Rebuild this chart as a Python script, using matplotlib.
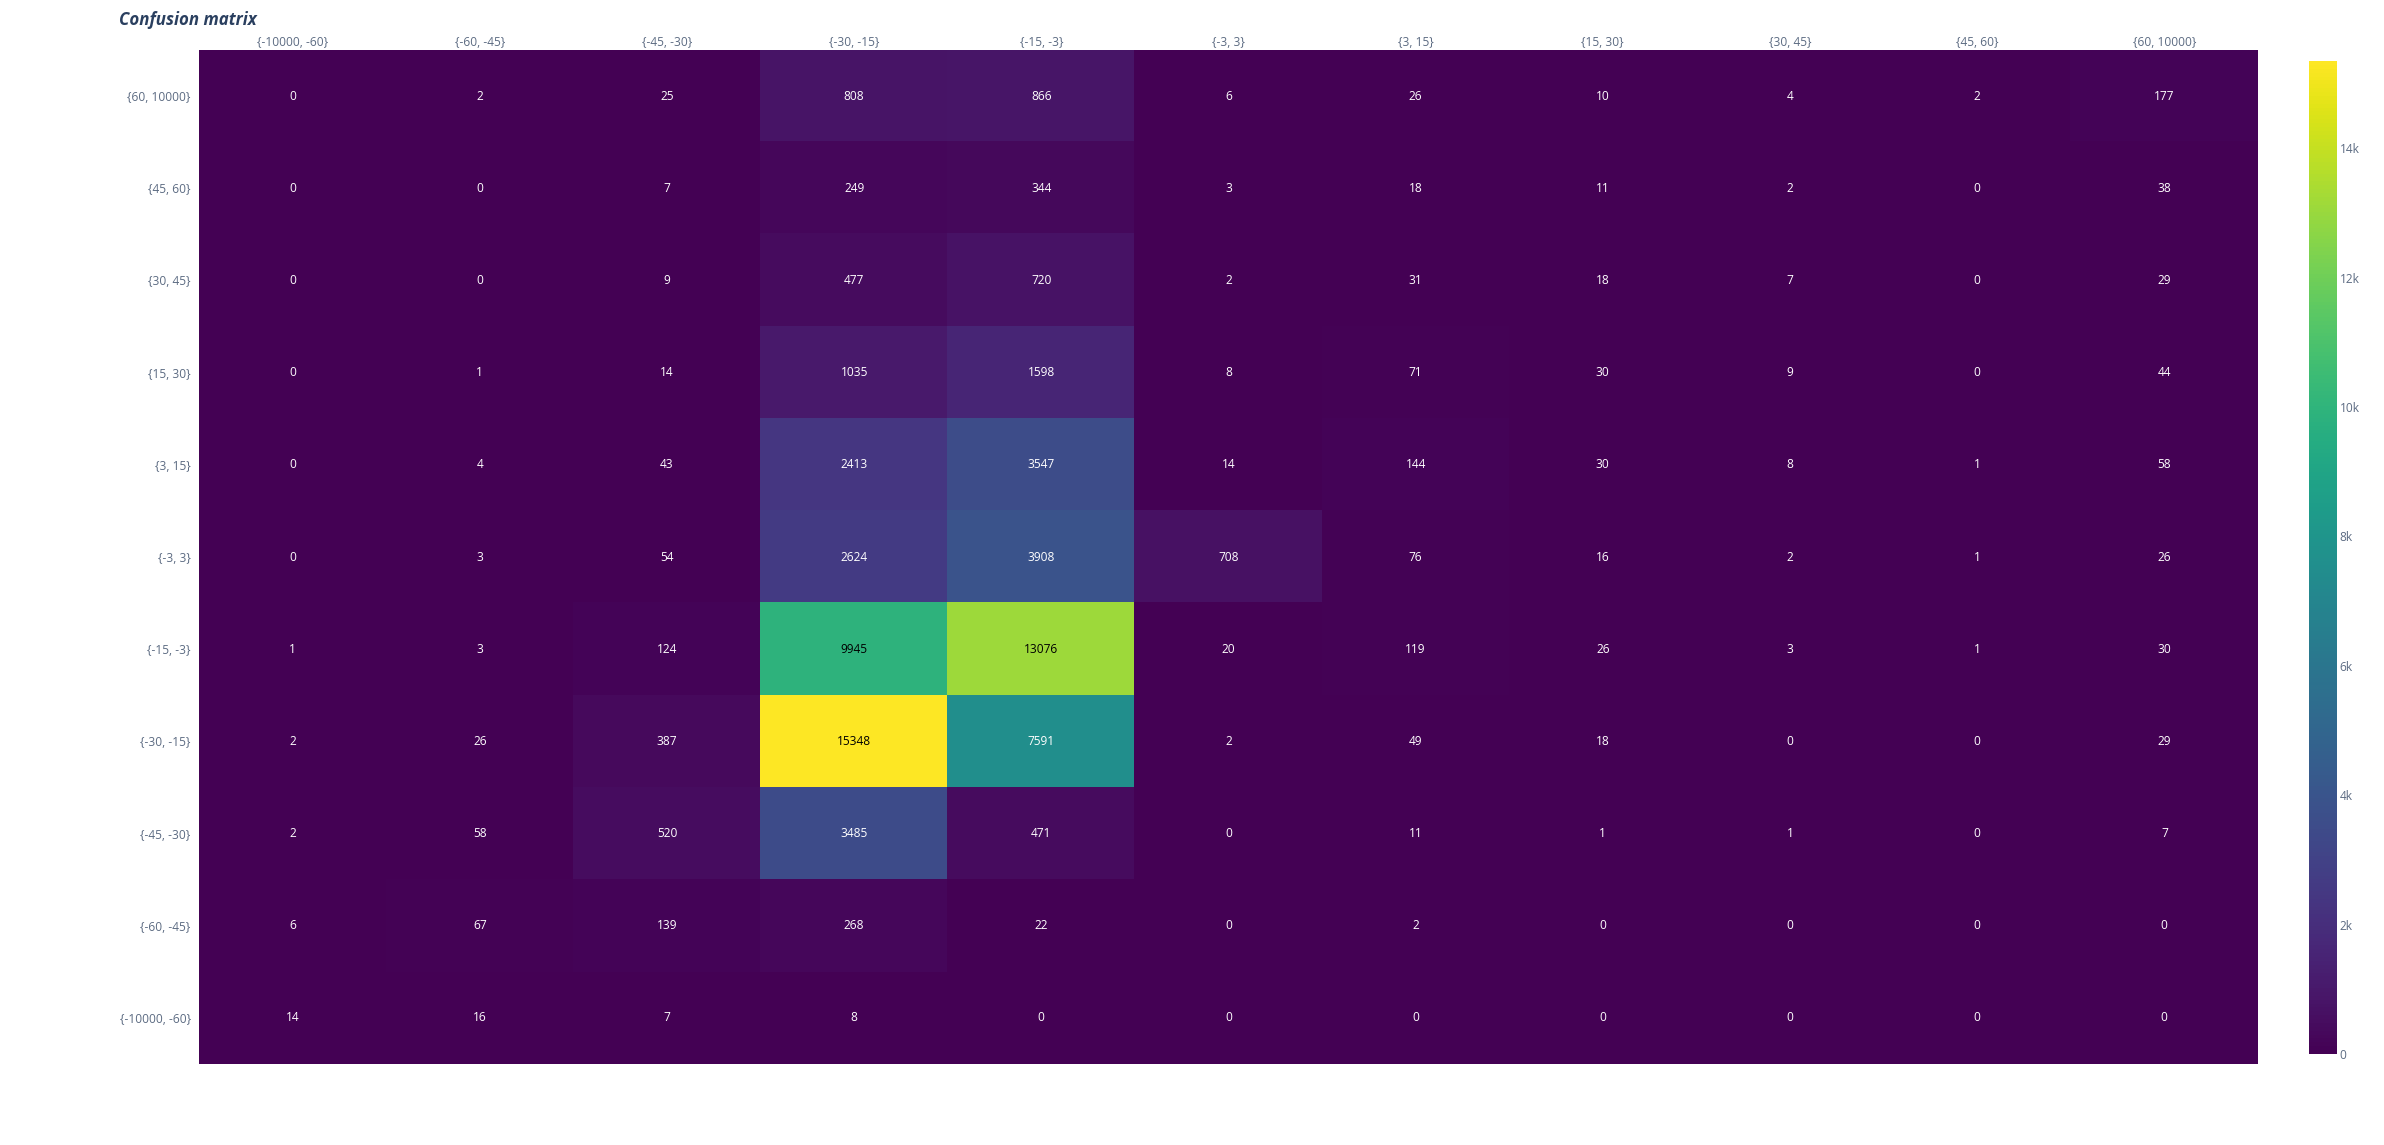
import numpy as np
import matplotlib.pyplot as plt

# bin labels (columns left->right, rows top->bottom)
col_labels = ['{-10000, -60}', '{-60, -45}', '{-45, -30}', '{-30, -15}', '{-15, -3}',
              '{-3, 3}', '{3, 15}', '{15, 30}', '{30, 45}', '{45, 60}', '{60, 10000}']
row_labels = col_labels[::-1]

# confusion matrix counts, top row first
counts = [
    [0, 2, 25, 808, 866, 6, 26, 10, 4, 2, 177],
    [0, 0, 7, 249, 344, 3, 18, 11, 2, 0, 38],
    [0, 0, 9, 477, 720, 2, 31, 18, 7, 0, 29],
    [0, 1, 14, 1035, 1598, 8, 71, 30, 9, 0, 44],
    [0, 4, 43, 2413, 3547, 14, 144, 30, 8, 1, 58],
    [0, 3, 54, 2624, 3908, 708, 76, 16, 2, 1, 26],
    [1, 3, 124, 9945, 13076, 20, 119, 26, 3, 1, 30],
    [2, 26, 387, 15348, 7591, 2, 49, 18, 0, 0, 29],
    [2, 58, 520, 3485, 471, 0, 11, 1, 1, 0, 7],
    [6, 67, 139, 268, 22, 0, 2, 0, 0, 0, 0],
    [14, 16, 7, 8, 0, 0, 0, 0, 0, 0, 0],
]
cbar_ticks = [0, 2000, 4000, 6000, 8000, 10000, 12000, 14000]
cbar_labels = ['0', '2k', '4k', '6k', '8k', '10k', '12k', '14k']

plt.rcParams['font.family'] = ['Open Sans', 'DejaVu Sans']
tick_color = '#5c6b82'

z = np.array(counts)
vmax = z.max()

fig = plt.figure(figsize=(23.84, 11.45), dpi=100)
ax = fig.add_axes([0.0835, 0.0707, 0.8636, 0.8856])
cax = fig.add_axes([0.9685, 0.0795, 0.0117, 0.8672])

im = ax.imshow(z, cmap='viridis', vmin=0, vmax=vmax, aspect='auto', interpolation='nearest')

# cell values, dark text on bright cells
for i in range(z.shape[0]):
    for j in range(z.shape[1]):
        v = z[i, j]
        c = 'black' if v > vmax / 2 else 'white'
        ax.text(j, i, str(v), ha='center', va='center', fontsize=8.6, color=c)

ax.set_xticks(range(len(col_labels)))
ax.set_xticklabels(col_labels)
ax.set_yticks(range(len(row_labels)))
ax.set_yticklabels(row_labels)
ax.xaxis.tick_top()
ax.tick_params(length=0, labelsize=8.6, colors=tick_color, pad=0.5)
ax.tick_params(axis='y', pad=6)
for s in ax.spines.values():
    s.set_visible(False)

cb = fig.colorbar(im, cax=cax)
cb.outline.set_visible(False)
cb.set_ticks(cbar_ticks)
cb.set_ticklabels(cbar_labels)
cax.tick_params(length=0, labelsize=8.6, colors=tick_color, pad=2)

fig.text(0.0499, 0.99, 'Confusion matrix', fontsize=12.2, fontweight='bold',
         fontstyle='italic', color='#2a3f5f', ha='left', va='top')

fig.savefig('out.png', dpi=100)
